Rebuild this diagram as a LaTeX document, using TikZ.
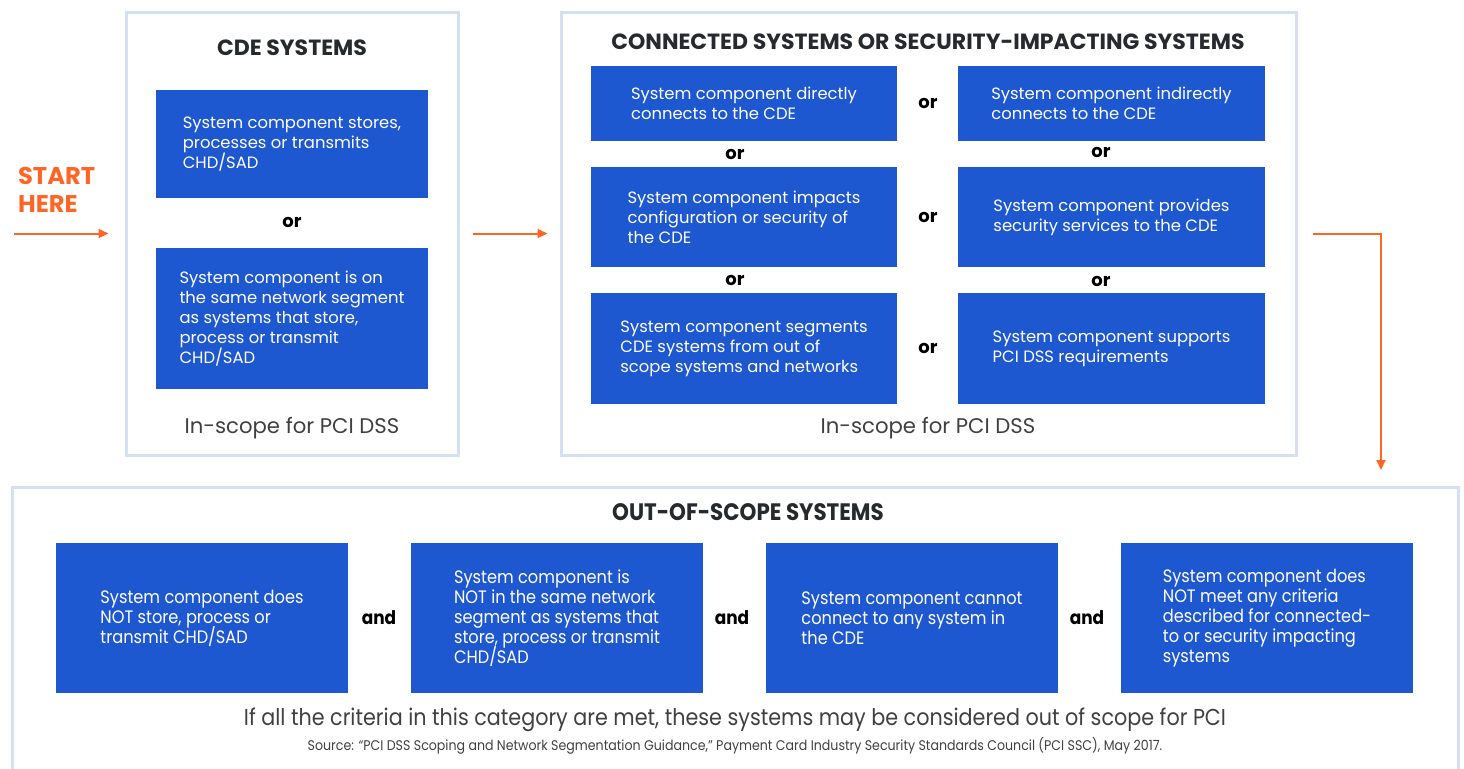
\documentclass[tikz,border=0pt]{standalone}
\usepackage{fontspec}
\setmainfont{Poppins}
\newfontfamily\narrowfont[FakeStretch=0.9]{Poppins}
\usetikzlibrary{arrows.meta, positioning}
% keep the box lines evenly spaced
\setlength{\lineskiplimit}{-10pt}

\definecolor{boxblue}{RGB}{30,88,208}
\definecolor{framerule}{RGB}{214,224,245}
\definecolor{startorange}{RGB}{255,102,38}
\definecolor{titleink}{RGB}{38,42,46}
\definecolor{noteink}{RGB}{64,64,64}

\begin{document}
\begin{tikzpicture}
    [
        x=0.5pt, y=-0.5pt,
        frame/.style={draw=framerule, line width=1.5pt, inner sep=0pt},
        crit/.style={fill=boxblue, text=white, align=left, inner sep=0pt,
            font=\fontsize{8.2}{10}\selectfont},
        oscrit/.style={crit, minimum width=146pt, minimum height=75pt,
            font=\narrowfont\fontsize{9}{10}\selectfont},
        heading/.style={text=titleink, font=\bfseries\fontsize{11}{13}\selectfont},
        joiner/.style={font=\bfseries\fontsize{9}{10}\selectfont},
        andjoiner/.style={font=\narrowfont\bfseries\fontsize{9.4}{11}\selectfont},
        scopenote/.style={text=noteink, font=\fontsize{10.6}{12}\selectfont},
        flow/.style={draw=startorange, line width=1pt,
            -{Triangle[length=5pt, width=4.5pt]}},
    ]
    \useasboundingbox (0,0) rectangle (1464,768);

    % the three groups
    \node[frame, minimum width=166pt, minimum height=221.5pt] (cde) at (292,233.5) {};
    \node[frame, minimum width=367.5pt, minimum height=221.5pt] (conn) at (928.5,233.5) {};
    \node[frame, minimum width=723pt, minimum height=156.5pt] (oos) at (735,643.5) {};

    % CDE systems
    \node[heading] (cde title) at (292,48) {CDE SYSTEMS};
    \node[crit, minimum width=136pt, minimum height=54pt] (stores) at (292,144)
        {System component stores,\\processes or transmits\\CHD/SAD};
    \node[joiner] (cde or) at (292,222) {or};
    \node[crit, minimum width=136pt, minimum height=70.5pt] (samenet) at (292,318.5)
        {System component is on\\the same network segment\\as systems that store,\\process or transmit\\CHD/SAD};
    \node[scopenote] (cde note) at (292,428) {In-scope for PCI DSS};

    % connected or security-impacting systems
    \node[heading] (conn title) at (928,42) {CONNECTED SYSTEMS OR SECURITY-IMPACTING SYSTEMS};
    \node[crit, minimum width=153pt, minimum height=37.5pt] (direct) at (744,103.5)
        {System component directly\\connects to the CDE};
    \node[crit, minimum width=153.5pt, minimum height=37.5pt] (indirect) at (1111.5,103.5)
        {System component indirectly\\connects to the CDE};
    \node[crit, minimum width=153pt, minimum height=50pt] (impacts) at (744,217)
        {System component impacts\\configuration or security of\\the CDE};
    \node[crit, minimum width=153.5pt, minimum height=50pt] (services) at (1111.5,217)
        {System component provides\\security services to the CDE};
    \node[crit, minimum width=153pt, minimum height=55.5pt] (segments) at (744,348.5)
        {System component segments\\CDE systems from out of\\scope systems and networks};
    \node[crit, minimum width=153.5pt, minimum height=55.5pt] (supports) at (1111.5,348.5)
        {System component supports\\PCI DSS requirements};
    \node[joiner] (or a) at (928,103) {or};
    \node[joiner] (or b) at (928,217) {or};
    \node[joiner] (or c) at (928,348) {or};
    \node[joiner] (or d) at (735,154) {or};
    \node[joiner] (or e) at (735,280) {or};
    \node[joiner] (or f) at (1101,152) {or};
    \node[joiner] (or g) at (1101,281) {or};
    \node[scopenote] (conn note) at (928,428) {In-scope for PCI DSS};

    % out-of-scope systems
    \node[heading, font=\narrowfont\bfseries\fontsize{11.9}{13}\selectfont] (oos title) at (748,512)
        {OUT-OF-SCOPE SYSTEMS};
    \node[oscrit] (nostore) at (202,618)
        {System component does\\NOT store, process or\\transmit CHD/SAD};
    \node[oscrit] (notsame) at (557,618)
        {System component is\\NOT in the same network\\segment as systems that\\store, process or transmit\\CHD/SAD};
    \node[oscrit] (noconnect) at (912,618)
        {System component cannot\\connect to any system in\\the CDE};
    \node[oscrit] (nocriteria) at (1267,618)
        {System component does\\NOT meet any criteria\\described for connected-\\to or security impacting\\systems};
    \node[andjoiner] (and a) at (379,618) {and};
    \node[andjoiner] (and b) at (732,618) {and};
    \node[andjoiner] (and c) at (1087,618) {and};
    \node[scopenote, font=\narrowfont\fontsize{11.5}{14}\selectfont] (oos note) at (735,720)
        {If all the criteria in this category are met, these systems may be considered out of scope for PCI};
    \node[text=noteink, font=\narrowfont\fontsize{7}{8}\selectfont] (source) at (735,746)
        {Source: “PCI DSS Scoping and Network Segmentation Guidance,” Payment Card Industry Security Standards Council (PCI SSC), May 2017.};

    % start marker and the flow between groups
    \node[text=startorange, align=left, anchor=west, font=\bfseries\fontsize{12.1}{14}\selectfont]
        (start) at (11,190) {START\\HERE};
    \coordinate (entry) at (14,233.5);
    \coordinate (drop) at (1381,487);
    \draw[flow, shorten >=8pt] (entry) -- (cde.west);
    \draw[flow, shorten <=6.5pt, shorten >=6pt] (cde.east) -- (conn.west);
    \draw[flow, shorten >=8.5pt] (conn.east) ++(15,0) -| (drop);
\end{tikzpicture}
\end{document}
